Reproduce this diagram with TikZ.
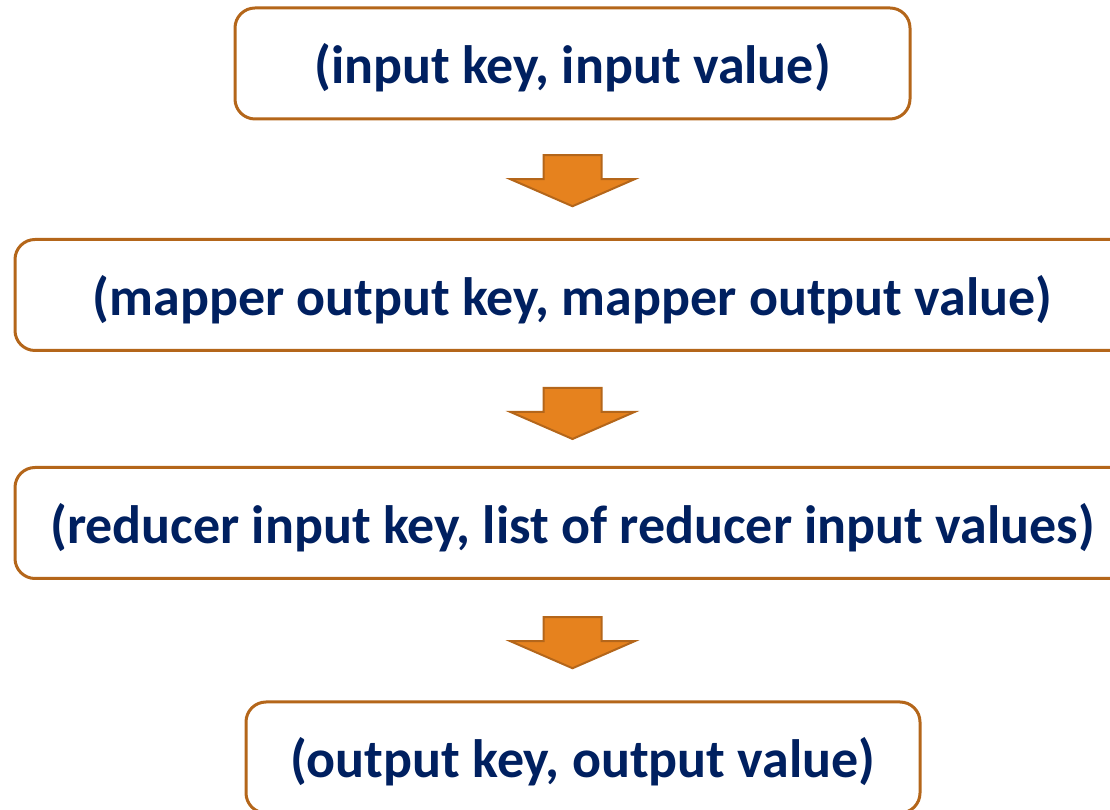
\documentclass[tikz,border=0pt]{standalone}
\usepackage{fontspec}
\setmainfont{Carlito}
\usepackage{tikz}
\usetikzlibrary{calc}
\usetikzlibrary{positioning}

\definecolor{boxline}{RGB}{180,102,26}
\definecolor{arrowfill}{RGB}{230,130,30}
\definecolor{textnavy}{RGB}{0,32,96}

\tikzset{
  pairbox/.style={draw=boxline,line width=3pt,rounded corners=20pt,fill=white,
    minimum height=111pt,inner sep=0pt,text height=45pt,text depth=4pt,
    font=\fontsize{54}{60}\selectfont\bfseries,text=textnavy},
  downarrow/.pic={
    \draw[fill=arrowfill,draw=boxline,line width=2pt,line join=miter]
      (-29,26) -- (29,26) -- (29,2) -- (62,2) -- (0,-25) -- (-62,2) -- (-29,2) -- cycle;
  }
}

\begin{document}
\begin{tikzpicture}[x=1pt,y=1pt]
			\useasboundingbox (0,0) rectangle (1110,810);
			\node[pairbox,minimum width=675pt] (in) at (572.5,746.5) {(input key, input value)};
			\node[pairbox,minimum width=1115pt] (map) at (572.5,515) {(mapper output key, mapper output value)};
			\node[pairbox,minimum width=1115pt] (red) at (572.5,287) {(reducer input key, list of reducer input values)};
			\node[pairbox,minimum width=674pt] (out) at (583,52.5) {(output key, output value)};
			%\draw (in) -- (map) -- (red) -- (out);
			\pic at ($(in.south)!0.5!(map.north)+(0,-2)$) {downarrow};
			\pic at ($(map.south)!0.5!(red.north)+(0,-5)$) {downarrow};
			\pic at ($(red.south -| map.center)!0.5!(map.center |- out.north)+(0,-3)$) {downarrow};
\end{tikzpicture}
\end{document}
